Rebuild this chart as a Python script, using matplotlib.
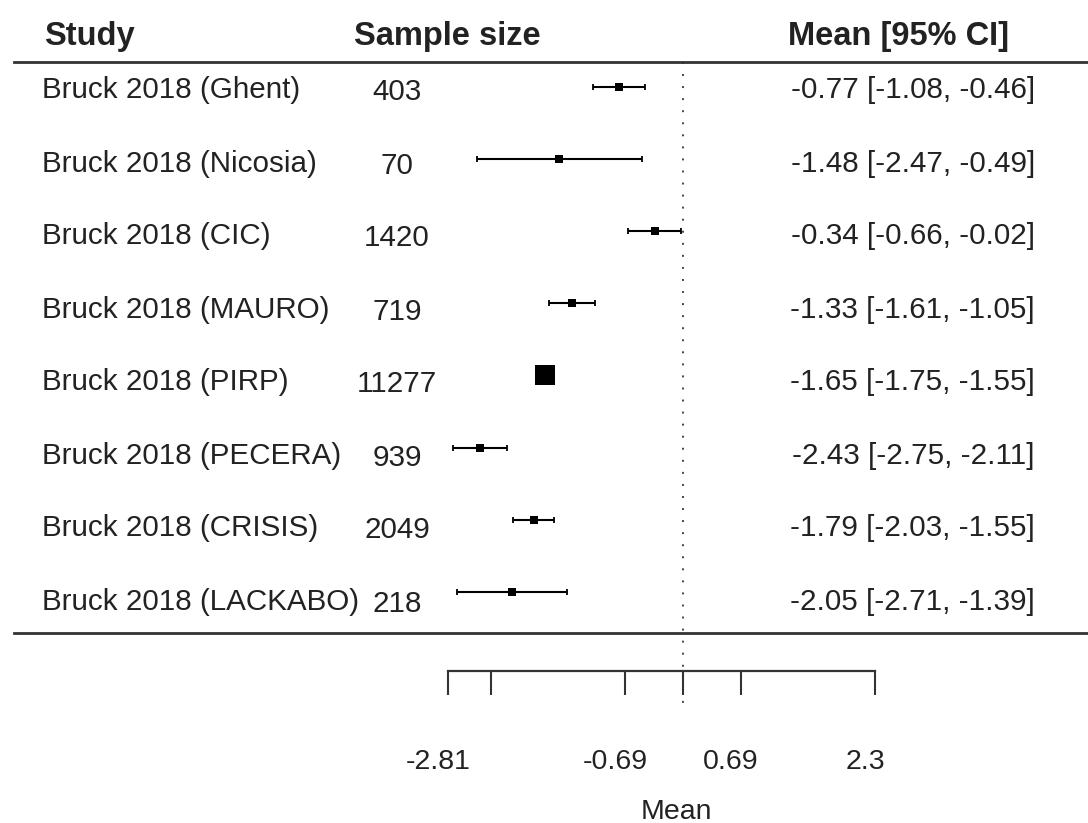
import numpy as np
import matplotlib
matplotlib.use("Agg")
import matplotlib.pyplot as plt
from matplotlib.lines import Line2D
from matplotlib.transforms import blended_transform_factory, ScaledTranslation

# ---------------- data ----------------
studies = ["Bruck 2018 (Ghent)", "Bruck 2018 (Nicosia)", "Bruck 2018 (CIC)",
           "Bruck 2018 (MAURO)", "Bruck 2018 (PIRP)", "Bruck 2018 (PECERA)",
           "Bruck 2018 (CRISIS)", "Bruck 2018 (LACKABO)"]
sample_size = [403, 70, 1420, 719, 11277, 939, 2049, 218]
mean = [-0.77, -1.48, -0.34, -1.33, -1.65, -2.43, -1.79, -2.05]
ci_low = [-1.08, -2.47, -0.66, -1.61, -1.75, -2.75, -2.03, -2.71]
ci_high = [-0.46, -0.49, -0.02, -1.05, -1.55, -2.11, -1.55, -1.39]
axis_ticks = [-2.81, -2.3, -0.69, 0, 0.69, 2.3]
axis_tick_labels = ["-2.81", "", "-0.69", "", "0.69", "2.3"]
headers = ["Study", "Sample size", "Mean [95% CI]"]

# ---------------- layout ----------------
W, H = 1088, 823
plt.rcParams['font.family'] = ['Liberation Sans', 'DejaVu Sans']
TXT = '#222222'
fig = plt.figure(figsize=(W / 100, H / 100), dpi=100)
fig.patch.set_facecolor('white')

X0_PX, PX_PER_UNIT = 683.0, 83.5      # x = 0 pixel, pixels per unit
ROW0_PX, ROW_STEP = 86.5, 72.2        # first row pixel, row spacing
TXT0_PX, TXT_STEP = 87.5, 73.0        # text rows


def row_of(py):
    return (py - ROW0_PX) / ROW_STEP


xlim = (-X0_PX / PX_PER_UNIT, (W - X0_PX) / PX_PER_UNIT)

ax = fig.add_axes([0, 0, 1, 1])
ax.set_xlim(*xlim)
ax.set_ylim(row_of(H), row_of(0))
ax.axis('off')

mean_a = np.array(mean)
lo_a = np.array(ci_low)
hi_a = np.array(ci_high)
rows = np.arange(len(studies))

# inverse-variance weights -> box size
se = (hi_a - lo_a) / 3.92
w = 1 / se ** 2
box_px = np.maximum(8.0, 20.0 * w / w.max())

ax.errorbar(mean_a, rows, xerr=[mean_a - lo_a, hi_a - mean_a], fmt='none',
            ecolor='black', elinewidth=1.5, capsize=2.3, capthick=1.3, zorder=3)
ax.scatter(mean_a, rows, marker='s', s=(box_px * 0.72) ** 2, color='black',
           linewidths=0, zorder=4)

# zero reference line
ax.plot([0, 0], [row_of(62), row_of(708)], color='#444444', lw=1.4,
        linestyle=(0, (1, 5.2)), zorder=2)

# rules
for py in (62, 633):
    fig.add_artist(Line2D([14 / W, 1], [1 - py / H] * 2, transform=fig.transFigure,
                          color='#333333', lw=2.0))

tr = blended_transform_factory(fig.transFigure, ax.transData)

# headers
hdr_y = row_of(33.5)
ax.text(44 / W, hdr_y, headers[0], transform=tr, fontsize=23.5, fontweight='bold',
        ha='left', va='center_baseline', color=TXT)
ax.text(354 / W, hdr_y, headers[1], transform=tr, fontsize=23.5, fontweight='bold',
        ha='left', va='center_baseline', color=TXT)
ax.text(1009 / W, hdr_y, headers[2], transform=tr, fontsize=23.5, fontweight='bold',
        ha='right', va='center_baseline', color=TXT)

for i, (s, n, m, l, h) in enumerate(zip(studies, sample_size, mean, ci_low, ci_high)):
    ty = row_of(TXT0_PX + TXT_STEP * i)
    ty_n = row_of(TXT0_PX + 2 + TXT_STEP * i)
    ax.text(42 / W, ty, s, transform=tr, fontsize=21.3, ha='left',
            va='center_baseline', color=TXT)
    ax.text(397 / W, ty_n, f"{n}", transform=tr, fontsize=21.3,
            ha='center', va='center_baseline', color=TXT)
    ax.text(1035 / W, ty, f"{m:.2f} [{l:.2f}, {h:.2f}]", transform=tr,
            fontsize=21.3, ha='right', va='center_baseline', color=TXT)

# x axis
ax2 = fig.add_axes([0, (H - 671) / H, 1, 0.02])
ax2.set_xlim(*xlim)
ax2.patch.set_alpha(0)
for sp in ('top', 'left', 'right'):
    ax2.spines[sp].set_visible(False)
ax2.spines['bottom'].set_bounds(axis_ticks[0], axis_ticks[-1])
ax2.spines['bottom'].set_linewidth(1.6)
ax2.spines['bottom'].set_color('#333333')
ax2.set_yticks([])
ax2.set_xticks(axis_ticks)
ax2.set_xticklabels(axis_tick_labels)
ax2.tick_params(axis='x', direction='out', length=17.3, width=1.5, color='#333333',
                pad=39, labelsize=20.5, labelcolor=TXT)
off = ScaledTranslation(-10 / 100, 0, fig.dpi_scale_trans)
for lab in ax2.get_xticklabels():
    lab.set_transform(lab.get_transform() + off)
ax2.set_xlabel("Mean", fontsize=20.5, color=TXT)
ax2.xaxis.set_label_coords(676 / W, 1 - 799 / H, transform=fig.transFigure)

fig.savefig("out.png", dpi=100, facecolor='white')
